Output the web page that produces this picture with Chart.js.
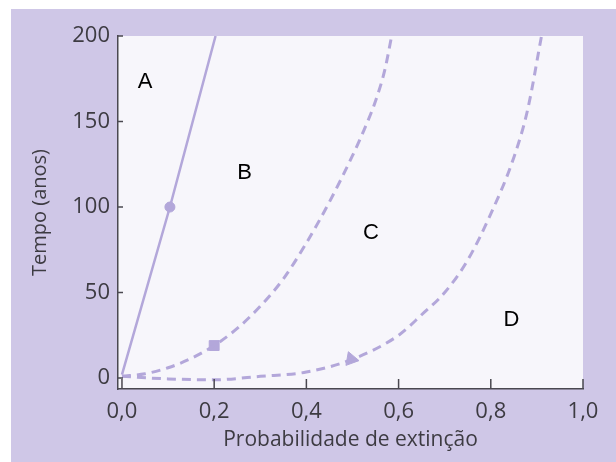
<!DOCTYPE html>
<html>
<head>
<meta charset="utf-8">
<script src="https://cdn.jsdelivr.net/npm/chart.js@4/dist/chart.umd.min.js"></script>
<style>
  html, body { margin: 0; padding: 0; background: #fff; }
  #wrap { width: 616px; height: 462px; }
</style>
</head>
<body>
<div id="wrap"><canvas id="chart" width="616" height="462"></canvas></div>
<script>
// curve A (solid line, circle marker)
const aX = [0.0, 0.104, 0.203];
const aY = [2, 100, 200];
// curve between B and C (dashed, square marker)
const cX = [0.0, 0.05, 0.1, 0.15, 0.2, 0.25, 0.3, 0.35, 0.4, 0.45, 0.5, 0.525, 0.55, 0.57, 0.585];
const cY = [1, 2.5, 6, 11.5, 19, 29, 42, 58, 79, 103, 130, 145, 162, 180, 200];
// curve between C and D (dashed, triangle marker)
const dX = [0.0, 0.1, 0.2, 0.3, 0.4, 0.5, 0.6, 0.65, 0.7, 0.75, 0.8, 0.85, 0.88, 0.91];
const dY = [1, -0.5, -1, 1, 3.5, 11, 25, 37, 50, 69, 96, 129, 157, 200];
// markers on the curves
const markA = { x: 0.104, y: 100 };
const markC = { x: 0.2, y: 19 };
const markD = { x: 0.497, y: 11 };
// region letters
const regionNames = ['A', 'B', 'C', 'D'];
const regionX = [0.05, 0.266, 0.54, 0.845];
const regionY = [173, 120, 85, 34];
// axes
const xTicks = [0, 0.2, 0.4, 0.6, 0.8, 1.0];
const xTickLabels = ['0,0', '0,2', '0,4', '0,6', '0,8', '1,0'];
const yTicks = [0, 50, 100, 150, 200];

const lineColor = '#b3a7da';
const textColor = '#3d3b42';
const toPts = (xs, ys) => xs.map((v, i) => ({ x: v, y: ys[i] }));

const backdrop = {
  id: 'backdrop',
  beforeDraw(chart) {
    const { ctx, chartArea: a } = chart;
    ctx.save();
    ctx.fillStyle = '#ffffff';
    ctx.fillRect(0, 0, chart.width, chart.height);
    ctx.fillStyle = '#cfc7e7';
    ctx.fillRect(11, 9, chart.width - 11, chart.height - 9);
    ctx.fillStyle = '#f7f6fb';
    ctx.fillRect(a.left, a.top, a.right - a.left, a.bottom - a.top);
    ctx.restore();
  }
};

// tick marks point into the plot
const innerTicks = {
  id: 'innerTicks',
  afterDatasetsDraw(chart) {
    const { ctx, chartArea: a, scales: { x, y } } = chart;
    ctx.save();
    ctx.strokeStyle = '#4a4850';
    ctx.lineWidth = 1.5;
    ctx.beginPath();
    x.ticks.forEach(t => {
      const px = x.getPixelForValue(t.value);
      ctx.moveTo(px, a.bottom);
      ctx.lineTo(px, a.bottom - 10);
    });
    y.ticks.forEach(t => {
      const py = y.getPixelForValue(t.value);
      ctx.moveTo(a.left, py);
      ctx.lineTo(a.left + 5, py);
    });
    ctx.stroke();
    ctx.restore();
  }
};

const regionLabels = {
  id: 'regionLabels',
  afterDatasetsDraw(chart) {
    const { ctx, scales: { x, y } } = chart;
    ctx.save();
    ctx.fillStyle = '#000';
    ctx.font = '22px "Liberation Sans", Arial, sans-serif';
    ctx.textAlign = 'center';
    ctx.textBaseline = 'middle';
    regionNames.forEach((n, i) => {
      ctx.fillText(n, x.getPixelForValue(regionX[i]), y.getPixelForValue(regionY[i]));
    });
    ctx.restore();
  }
};

const tickFont = { family: '"Open Sans", sans-serif', size: 22 };

new Chart(document.getElementById('chart'), {
  type: 'line',
  data: {
    datasets: [
      {
        data: toPts(aX, aY),
        borderColor: lineColor,
        borderWidth: 2.5,
        pointRadius: 0
      },
      {
        data: toPts(cX, cY),
        borderColor: lineColor,
        borderWidth: 3,
        borderDash: [9, 6],
        cubicInterpolationMode: 'monotone',
        pointRadius: 0
      },
      {
        data: toPts(dX, dY),
        borderColor: lineColor,
        borderWidth: 3,
        borderDash: [9, 6],
        cubicInterpolationMode: 'monotone',
        pointRadius: 0
      },
      {
        data: [markA],
        showLine: false,
        pointStyle: 'circle',
        pointRadius: 5,
        backgroundColor: lineColor,
        borderColor: lineColor
      },
      {
        data: [markC],
        showLine: false,
        pointStyle: 'rect',
        pointRadius: 7,
        backgroundColor: lineColor,
        borderColor: lineColor
      },
      {
        data: [markD],
        showLine: false,
        pointStyle: 'triangle',
        pointRadius: 8,
        rotation: -20,
        backgroundColor: lineColor,
        borderColor: lineColor
      }
    ]
  },
  options: {
    responsive: false,
    animation: false,
    devicePixelRatio: 1,
    layout: { padding: { top: 36, right: 33, left: 0, bottom: 0 } },
    plugins: {
      legend: { display: false },
      tooltip: { enabled: false }
    },
    scales: {
      x: {
        type: 'linear',
        min: -0.0086,
        max: 1.0,
        afterBuildTicks: s => { s.ticks = xTicks.map(v => ({ value: v })); },
        afterFit: s => { s.height = 73; },
        grid: { display: false, drawTicks: false },
        border: { display: true, color: '#4a4850', width: 1.5 },
        ticks: {
          font: tickFont,
          color: textColor,
          padding: 10,
          maxRotation: 0,
          autoSkip: false,
          callback: (v, i) => xTickLabels[i]
        },
        title: {
          display: true,
          text: 'Probabilidade de extinção',
          font: { family: '"Open Sans", sans-serif', size: 21 },
          color: textColor,
          padding: { top: 0, bottom: 9 }
        }
      },
      y: {
        min: -6.4,
        max: 200,
        afterBuildTicks: s => { s.ticks = yTicks.map(v => ({ value: v })); },
        afterFit: s => { s.width = 118; },
        grid: { display: false, drawTicks: false },
        border: { display: true, color: '#4a4850', width: 1.5 },
        ticks: {
          font: tickFont,
          color: textColor,
          padding: 8
        },
        title: {
          display: true,
          text: 'Tempo (anos)',
          font: { family: '"Open Sans", sans-serif', size: 20 },
          color: textColor,
          padding: { top: 28, bottom: 0 }
        }
      }
    }
  },
  plugins: [backdrop, innerTicks, regionLabels]
});
</script>
</body>
</html>
